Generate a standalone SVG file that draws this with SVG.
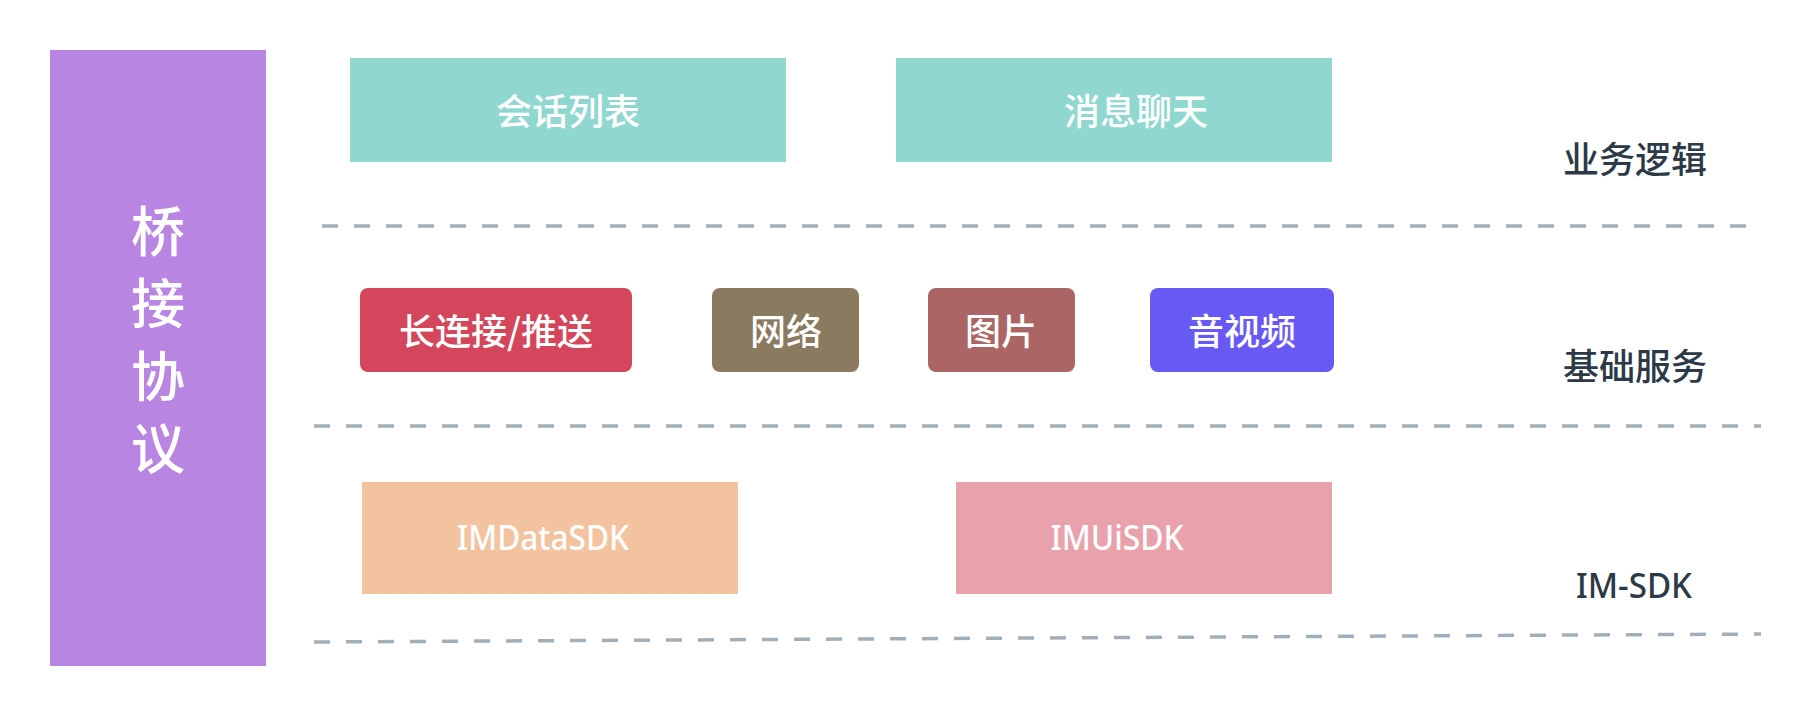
<svg xmlns="http://www.w3.org/2000/svg" width="1812" height="716" viewBox="0 0 1812 716">
<style>
.cjk{font-family:"Noto Sans CJK SC","Noto Sans",sans-serif;font-weight:500;}
.w{fill:#ffffff;}
.d{fill:#2c3a47;}
.lat{font-family:"Noto Sans","Liberation Sans",sans-serif;font-weight:500;}
.dash{stroke:#a1afbb;stroke-width:3.5;stroke-dasharray:16 16;fill:none;}
</style>
<rect width="1812" height="716" fill="#ffffff"/>
<g id="bridge">
<rect x="50" y="50" width="216" height="616" fill="#b886e2"/>
<text class="cjk w" x="158" y="228" font-size="54" text-anchor="middle" dominant-baseline="central">桥</text>
<text class="cjk w" x="158" y="300" font-size="54" text-anchor="middle" dominant-baseline="central">接</text>
<text class="cjk w" x="158" y="373" font-size="54" text-anchor="middle" dominant-baseline="central">协</text>
<text class="cjk w" x="158" y="445" font-size="54" text-anchor="middle" dominant-baseline="central">议</text>
</g>
<g id="connectors">
<line class="dash" x1="322" y1="226" x2="1746" y2="226"/>
<line class="dash" x1="314" y1="426" x2="1761" y2="426"/>
<line class="dash" x1="314" y1="642" x2="1761" y2="634"/>
</g>
<g id="conv-list">
<rect x="350" y="58" width="436" height="104" fill="#8fd7cf"/>
<text class="cjk w" x="568" y="109" font-size="36" text-anchor="middle" dominant-baseline="central">会话列表</text>
</g>
<g id="msg-chat">
<rect x="896" y="58" width="436" height="104" fill="#8fd7cf"/>
<text class="cjk w" x="1136" y="109" font-size="36" text-anchor="middle" dominant-baseline="central">消息聊天</text>
</g>
<g id="label-biz">
<text class="cjk d" x="1635" y="157" font-size="36" text-anchor="middle" dominant-baseline="central">业务逻辑</text>
</g>
<g id="push">
<rect x="360" y="288" width="272" height="84" rx="8" fill="#d4465c"/>
<text class="cjk w" x="496" y="329" font-size="36" text-anchor="middle" dominant-baseline="central">长连接/推送</text>
</g>
<g id="network">
<rect x="712" y="288" width="147" height="84" rx="8" fill="#8a7a5f"/>
<text class="cjk w" x="786" y="329" font-size="36" text-anchor="middle" dominant-baseline="central">网络</text>
</g>
<g id="image">
<rect x="928" y="288" width="147" height="84" rx="8" fill="#ab6565"/>
<text class="cjk w" x="1001" y="329" font-size="36" text-anchor="middle" dominant-baseline="central">图片</text>
</g>
<g id="av">
<rect x="1150" y="288" width="184" height="84" rx="8" fill="#6859f5"/>
<text class="cjk w" x="1242" y="329" font-size="36" text-anchor="middle" dominant-baseline="central">音视频</text>
</g>
<g id="label-base">
<text class="cjk d" x="1635" y="364" font-size="36" text-anchor="middle" dominant-baseline="central">基础服务</text>
</g>
<g id="imdatasdk">
<rect x="362" y="482" width="376" height="112" fill="#f3c3a0"/>
<text class="lat w" x="543" y="550" font-size="35" text-anchor="middle" textLength="172" lengthAdjust="spacingAndGlyphs">IMDataSDK</text>
</g>
<g id="imuisdk">
<rect x="956" y="482" width="376" height="112" fill="#e9a1ac"/>
<text class="lat w" x="1117" y="550" font-size="35" text-anchor="middle" textLength="133" lengthAdjust="spacingAndGlyphs">IMUiSDK</text>
</g>
<g id="label-sdk">
<text class="lat d" x="1634" y="598" font-size="35" text-anchor="middle" textLength="116" lengthAdjust="spacingAndGlyphs">IM-SDK</text>
</g>
</svg>
